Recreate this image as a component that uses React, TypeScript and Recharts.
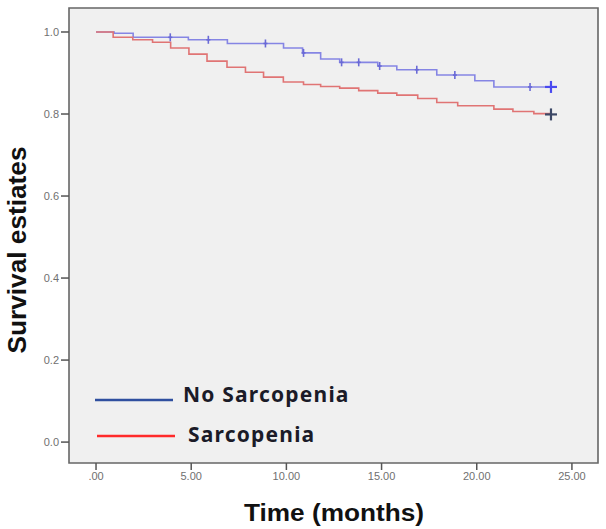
import React from 'react';
import {
  ComposedChart,
  Line,
  Scatter,
  XAxis,
  YAxis,
  CartesianGrid,
  ReferenceArea,
} from 'recharts';

// Kaplan–Meier steps: event times (months) and the survival estimate after each event
const noSarcTimes = [0, 0.95, 1.95, 4.85, 6.9, 9.85, 10.85, 11.8, 12.8, 14.8, 15.8, 17.9, 19.9, 20.9, 23.9];
const noSarcSurv = [1.0, 0.997, 0.987, 0.981, 0.972, 0.961, 0.949, 0.934, 0.926, 0.917, 0.908, 0.895, 0.881, 0.866, 0.866];

const sarcTimes = [0, 0.9, 1.93, 2.97, 3.92, 4.88, 5.83, 6.88, 7.85, 8.8, 9.84, 10.9, 11.8, 12.8, 13.8, 14.8, 15.8, 16.9, 17.9, 19.0, 20.9, 21.9, 23.0, 23.9];
const sarcSurv = [1.0, 0.987, 0.981, 0.975, 0.961, 0.946, 0.929, 0.914, 0.902, 0.89, 0.878, 0.872, 0.867, 0.863, 0.857, 0.851, 0.846, 0.838, 0.828, 0.82, 0.812, 0.806, 0.801, 0.799];

// Censored observations
const noSarcCensorTimes = [3.9, 5.9, 8.9, 10.9, 12.9, 13.8, 14.9, 16.85, 18.85, 22.8, 23.9];
const noSarcCensorSurv = [0.987, 0.981, 0.972, 0.949, 0.926, 0.926, 0.917, 0.908, 0.895, 0.866, 0.866];
const sarcCensorTimes = [23.9];
const sarcCensorSurv = [0.799];

const xTicks = [0, 5, 10, 15, 20, 25];
const yTicks = [0, 0.2, 0.4, 0.6, 0.8, 1.0];
const legendLabels = ['No Sarcopenia', 'Sarcopenia'];

const toPoints = (ts: number[], ss: number[]) => ts.map((t, i) => ({ t, s: ss[i] }));

const noSarcData = toPoints(noSarcTimes, noSarcSurv);
const sarcData = toPoints(sarcTimes, sarcSurv);
const noSarcCensor = toPoints(noSarcCensorTimes, noSarcCensorSurv);
const sarcCensor = toPoints(sarcCensorTimes, sarcCensorSurv);

const W = 606;
const H = 529;
const X_DOMAIN: [number, number] = [-1.42, 26.37];
const Y_DOMAIN: [number, number] = [-0.051, 1.0585];

const makeCross = (color: string, endColor: string, lastT: number) => (props: any) => {
  const { cx, cy, payload } = props;
  if (cx == null || cy == null) return <g />;
  const isEnd = payload && payload.t === lastT;
  const h = isEnd ? 6 : 4;
  const w = isEnd ? 6 : 2;
  const c = isEnd ? endColor : color;
  return (
    <g stroke={c} strokeWidth={isEnd ? 2.2 : 1.6}>
      <line x1={cx} y1={cy - h} x2={cx} y2={cy + h} />
      <line x1={cx - w} y1={cy} x2={cx + w} y2={cy} />
    </g>
  );
};

const tickStyle = { fontFamily: 'Liberation Sans, Arial, sans-serif', fontSize: 11, fill: '#707070' };
const titleStyle = { fontFamily: 'Liberation Sans, Arial, sans-serif', fontWeight: 700, fontSize: 23, fill: '#111' };
const legendStyle = { fontFamily: 'Noto Sans, sans-serif', fontWeight: 700, fontSize: 21, letterSpacing: 1.2, fill: '#1b1b28' };

export default function App() {
  const blueCross = makeCross('#6a6ad6', '#4a4af0', Math.max(...noSarcCensorTimes));
  const redCross = makeCross('#44506e', '#3c4866', Math.max(...sarcCensorTimes));
  return (
    <div style={{ position: 'absolute', left: 0, top: 0, width: W, height: H, background: '#ffffff' }}>
      <ComposedChart width={W} height={H} margin={{ top: 8, right: 8, left: 0, bottom: 0 }}>
        <CartesianGrid fill="#f0f0f0" stroke="none" />
        <XAxis
          type="number"
          dataKey="t"
          domain={X_DOMAIN}
          ticks={xTicks}
          allowDataOverflow
          height={66}
          axisLine={false}
          tickLine={{ stroke: '#555', strokeWidth: 1.5 }}
          tickSize={7}
          tick={tickStyle}
          tickFormatter={(v: number) => (v === 0 ? '.00' : v.toFixed(2))}
          label={{
            content: () => (
              <text x={334} y={521} textAnchor="middle" textLength={180} lengthAdjust="spacingAndGlyphs" style={titleStyle}>
                Time (months)
              </text>
            ),
          }}
        />
        <YAxis
          type="number"
          dataKey="s"
          domain={Y_DOMAIN}
          ticks={yTicks}
          allowDataOverflow
          width={69}
          axisLine={false}
          tickLine={{ stroke: '#555', strokeWidth: 1.5 }}
          tickSize={8}
          tick={tickStyle}
          tickFormatter={(v: number) => v.toFixed(1)}
          label={{
            content: () => (
              <text
                x={0}
                y={0}
                transform="translate(26 250) scale(1.15 1) rotate(-90)"
                textAnchor="middle"
                textLength={207}
                lengthAdjust="spacingAndGlyphs"
                style={titleStyle}
              >
                Survival estiates
              </text>
            ),
          }}
        />
        <ReferenceArea
          x1={X_DOMAIN[0]}
          x2={X_DOMAIN[1]}
          y1={Y_DOMAIN[0]}
          y2={Y_DOMAIN[1]}
          fill="none"
          stroke="#666"
          strokeWidth={1.6}
        />
        <Line
          data={noSarcData}
          dataKey="s"
          type="stepAfter"
          stroke="#8585e4"
          strokeWidth={1.6}
          dot={false}
          activeDot={false}
          isAnimationActive={false}
        />
        <Line
          data={sarcData}
          dataKey="s"
          type="stepAfter"
          stroke="#e07474"
          strokeWidth={1.6}
          dot={false}
          activeDot={false}
          isAnimationActive={false}
        />
        <Scatter data={noSarcCensor} dataKey="s" shape={blueCross} isAnimationActive={false} />
        <Scatter data={sarcCensor} dataKey="s" shape={redCross} isAnimationActive={false} />
      </ComposedChart>
      <svg
        width={W}
        height={H}
        style={{ position: 'absolute', left: 0, top: 0, pointerEvents: 'none' }}
      >
        <line x1={95} y1={400} x2={173} y2={400} stroke="#2f4f9f" strokeWidth={2.5} />
        <text x={183} y={402} style={legendStyle}>
          {legendLabels[0]}
        </text>
        <line x1={97} y1={436} x2={175} y2={436} stroke="#ff2a2a" strokeWidth={2.5} />
        <text x={188} y={442} style={legendStyle}>
          {legendLabels[1]}
        </text>
      </svg>
    </div>
  );
}
